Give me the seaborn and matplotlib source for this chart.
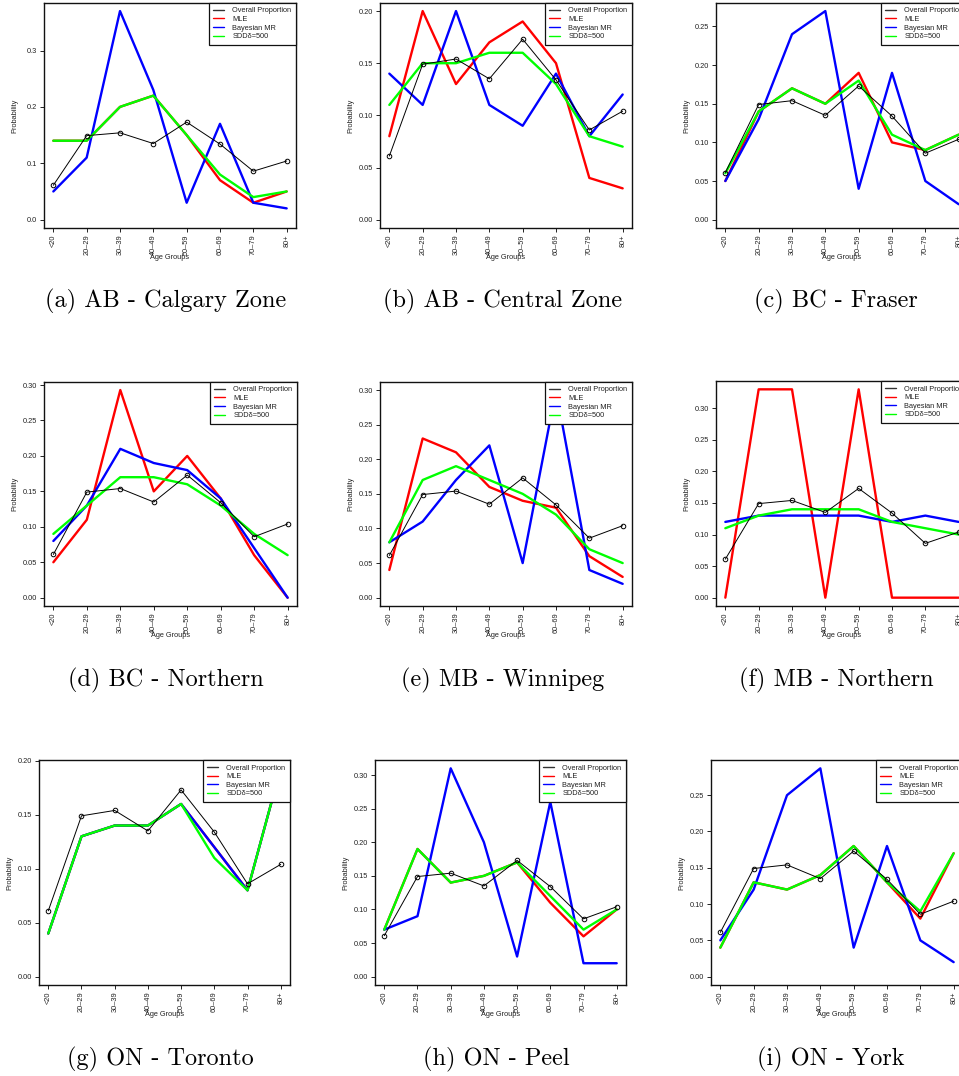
import numpy as np
import pandas as pd
import matplotlib
matplotlib.use("Agg")
import matplotlib.pyplot as plt
from matplotlib.lines import Line2D
import seaborn as sns

# ---------------- data ----------------
age_groups = ["<20", "20–29", "30–39", "40–49", "50–59", "60–69", "70–79", "80+"]
overall = [0.061, 0.149, 0.154, 0.135, 0.173, 0.134, 0.086, 0.104]

titles = ["(a) AB - Calgary Zone", "(b) AB - Central Zone", "(c) BC - Fraser",
          "(d) BC - Northern", "(e) MB - Winnipeg", "(f) MB - Northern",
          "(g) ON - Toronto", "(h) ON - Peel", "(i) ON - York"]

mle_a   = [0.14, 0.14, 0.20, 0.22, 0.15, 0.07, 0.03, 0.05]
bayes_a = [0.05, 0.11, 0.37, 0.23, 0.03, 0.17, 0.03, 0.02]
sdd_a   = [0.14, 0.14, 0.20, 0.22, 0.15, 0.08, 0.04, 0.05]

mle_b   = [0.08, 0.20, 0.13, 0.17, 0.19, 0.15, 0.04, 0.03]
bayes_b = [0.14, 0.11, 0.20, 0.11, 0.09, 0.14, 0.08, 0.12]
sdd_b   = [0.11, 0.15, 0.15, 0.16, 0.16, 0.13, 0.08, 0.07]

mle_c   = [0.05, 0.14, 0.17, 0.15, 0.19, 0.10, 0.09, 0.11]
bayes_c = [0.05, 0.13, 0.24, 0.27, 0.04, 0.19, 0.05, 0.02]
sdd_c   = [0.06, 0.14, 0.17, 0.15, 0.18, 0.11, 0.09, 0.11]

mle_d   = [0.05, 0.11, 0.293, 0.15, 0.20, 0.14, 0.06, 0.00]
bayes_d = [0.08, 0.13, 0.21, 0.19, 0.18, 0.14, 0.07, 0.00]
sdd_d   = [0.09, 0.13, 0.17, 0.17, 0.16, 0.13, 0.09, 0.06]

mle_e   = [0.04, 0.23, 0.21, 0.16, 0.14, 0.13, 0.06, 0.03]
bayes_e = [0.08, 0.11, 0.17, 0.22, 0.05, 0.30, 0.04, 0.02]
sdd_e   = [0.08, 0.17, 0.19, 0.17, 0.15, 0.12, 0.07, 0.05]

mle_f   = [0.00, 0.33, 0.33, 0.00, 0.33, 0.00, 0.00, 0.00]
bayes_f = [0.12, 0.13, 0.13, 0.13, 0.13, 0.12, 0.13, 0.12]
sdd_f   = [0.11, 0.13, 0.14, 0.14, 0.14, 0.12, 0.11, 0.10]

mle_g   = [0.04, 0.13, 0.14, 0.14, 0.16, 0.12, 0.08, 0.193]
bayes_g = [0.04, 0.13, 0.14, 0.14, 0.16, 0.12, 0.08, 0.193]
sdd_g   = [0.04, 0.13, 0.14, 0.14, 0.16, 0.11, 0.08, 0.193]

mle_h   = [0.07, 0.19, 0.14, 0.15, 0.17, 0.11, 0.06, 0.10]
bayes_h = [0.07, 0.09, 0.31, 0.20, 0.03, 0.26, 0.02, 0.02]
sdd_h   = [0.07, 0.19, 0.14, 0.15, 0.17, 0.12, 0.07, 0.10]

mle_i   = [0.04, 0.13, 0.12, 0.14, 0.18, 0.13, 0.08, 0.17]
bayes_i = [0.05, 0.12, 0.25, 0.287, 0.04, 0.18, 0.05, 0.02]
sdd_i   = [0.04, 0.13, 0.12, 0.14, 0.18, 0.13, 0.09, 0.17]

mle_all = [mle_a, mle_b, mle_c, mle_d, mle_e, mle_f, mle_g, mle_h, mle_i]
bayes_all = [bayes_a, bayes_b, bayes_c, bayes_d, bayes_e, bayes_f, bayes_g, bayes_h, bayes_i]
sdd_all = [sdd_a, sdd_b, sdd_c, sdd_d, sdd_e, sdd_f, sdd_g, sdd_h, sdd_i]

legend_labels = ["Overall Proportion", "MLE", "Bayesian MR", "SDDδ=500"]

# ---------------- layout / style ----------------
W, H = 959, 1076
# plot boxes in pixels: left, top, right, bottom
boxes = [(44, 2.7, 296, 228), (380, 2.7, 632, 228), (716, 2.7, 968, 228),
         (44, 381.7, 297, 606), (380, 381.7, 632, 606), (716, 381, 968, 606),
         (39, 760, 290, 985), (375, 760, 626, 985), (711, 760, 963, 985)]
cap_pos = [(166, 307), (503, 307), (836, 307),
           (166, 686), (503, 686), (836, 686),
           (160, 1065), (496, 1065), (831, 1065)]
ystep = [0.1, 0.05, 0.05, 0.05, 0.05, 0.05, 0.05, 0.05, 0.05]
yfmt = ["%.1f"] + ["%.2f"] * 8

sns.set_style("ticks")
plt.rcParams["font.family"] = ["Liberation Sans", "DejaVu Sans"]

RED, BLUE, GREEN, BLACK = "#FF0000", "#0000FF", "#00FF00", "#000000"
TXT = "#222222"
FS = 5.3

fig = plt.figure(figsize=(W / 100, H / 100), dpi=100)

x = np.arange(len(age_groups))
for i in range(9):
    l, t, r, b = boxes[i]
    ax = fig.add_axes([l / W, 1 - b / H, (r - l) / W, (b - t) / H])
    df = pd.DataFrame({"x": x, "overall": overall, "mle": mle_all[i],
                       "bayes": bayes_all[i], "sdd": sdd_all[i]})
    sns.lineplot(data=df, x="x", y="mle", ax=ax, color=RED, lw=1.7,
                 sort=False, estimator=None)
    sns.lineplot(data=df, x="x", y="bayes", ax=ax, color=BLUE, lw=1.7,
                 sort=False, estimator=None)
    sns.lineplot(data=df, x="x", y="sdd", ax=ax, color=GREEN, lw=1.7,
                 sort=False, estimator=None)
    sns.lineplot(data=df, x="x", y="overall", ax=ax, color=BLACK, lw=0.7,
                 marker="o", markersize=3.3, markerfacecolor="none",
                 markeredgecolor=BLACK, markeredgewidth=0.7,
                 sort=False, estimator=None)

    ymax = max(max(overall), max(mle_all[i]), max(bayes_all[i]), max(sdd_all[i]))
    ax.set_ylim(-0.04 * ymax, ymax * 1.04)
    ax.set_xlim(-0.28, 7.28)
    yt = np.arange(0, ymax * 1.04 + 1e-9, ystep[i])
    ax.set_yticks(yt)
    ax.set_yticklabels([yfmt[i] % v for v in yt], fontsize=FS, color=TXT)
    ax.set_xticks(x)
    ax.set_xticklabels(age_groups, rotation=90, fontsize=FS, color=TXT)
    ax.tick_params(axis="both", length=3.2, width=0.7, pad=1.5, colors=TXT,
                   labelcolor=TXT)
    ax.set_xlabel("")
    ax.set_ylabel("")
    for sp in ax.spines.values():
        sp.set_visible(True)
        sp.set_linewidth(1.0)
        sp.set_color("#111111")
    ax.annotate("Age Groups", xy=(0.5, 0), xycoords="axes fraction",
                xytext=(0, -21), textcoords="offset points",
                ha="center", va="center", fontsize=FS, color=TXT)
    ax.annotate("Probability", xy=(0, 0.5), xycoords="axes fraction",
                xytext=(-21, 0), textcoords="offset points", rotation=90,
                ha="center", va="center", fontsize=FS, color=TXT)

    handles = [Line2D([], [], color="#333333", lw=1.0),
               Line2D([], [], color=RED, lw=1.0),
               Line2D([], [], color=BLUE, lw=1.0),
               Line2D([], [], color=GREEN, lw=1.0)]
    leg = ax.legend(handles, legend_labels, loc="upper right", fontsize=FS,
                    frameon=True, fancybox=False, framealpha=1,
                    edgecolor="#111111", borderaxespad=0, borderpad=0.6,
                    labelspacing=0.2, handlelength=1.5, handletextpad=1.1)
    leg.get_frame().set_linewidth(0.9)
    for txt in leg.get_texts():
        txt.set_color(TXT)

    cx, cy = cap_pos[i]
    fig.text(cx / W, 1 - cy / H, titles[i], ha="center", va="baseline",
             fontsize=17.5, family="cmr10", color="black")

fig.savefig("out.png", dpi=100)
